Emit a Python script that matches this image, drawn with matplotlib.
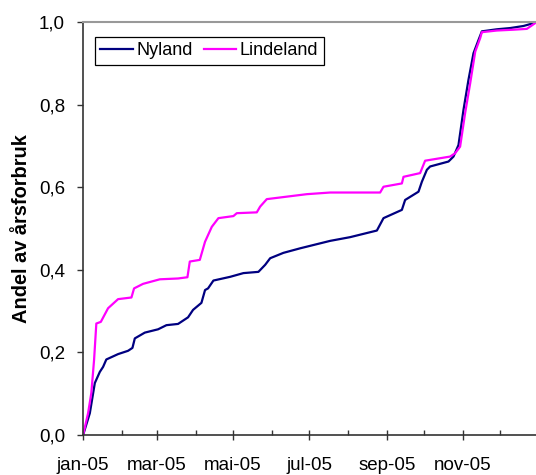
import matplotlib
matplotlib.use("Agg")
import matplotlib.pyplot as plt
from matplotlib.ticker import FixedLocator, FuncFormatter

plt.rcParams['font.family'] = ['Liberation Sans', 'DejaVu Sans']

# dag i året (0 = 1. januar 2005) og kumulativ andel av årsforbruk
nyland_dag = [0, 5.4, 9.4, 13.4, 16.0, 18.6, 28.0, 36.0, 39.5, 41.4, 49.4, 60.0, 66.7,
              76.0, 84.0, 88.0, 94.7, 97.6, 100.0, 104.3, 117.7, 128.3, 140.3, 145.7,
              149.7, 160.3, 173.7, 197.7, 213.7, 235.1, 240.4, 255.1, 257.7, 268.4,
              271.1, 275.1, 277.7, 292.4, 296.4, 300.4, 304.4, 308.4, 312.4, 316.4,
              319.1, 331.1, 341.8, 352.4, 361.8, 365]
nyland_andel = [0, 0.053, 0.126, 0.153, 0.165, 0.183, 0.196, 0.204, 0.211, 0.234, 0.248,
                0.256, 0.266, 0.269, 0.285, 0.303, 0.320, 0.351, 0.355, 0.374, 0.383,
                0.392, 0.395, 0.412, 0.428, 0.441, 0.452, 0.470, 0.479, 0.495, 0.525,
                0.545, 0.569, 0.589, 0.613, 0.642, 0.650, 0.662, 0.674, 0.702, 0.787,
                0.860, 0.924, 0.956, 0.977, 0.982, 0.985, 0.990, 0.998, 1.0]

lindeland_dag = [0, 4.0, 6.6, 8.8, 10.6, 14.2, 20.0, 28.0, 38.7, 40.8, 48.0, 61.4, 76.0,
                 83.5, 85.4, 93.4, 97.6, 103.0, 108.3, 120.3, 123.0, 139.0, 141.7, 147.0,
                 163.0, 179.0, 197.7, 237.7, 240.4, 255.1, 256.4, 269.7, 273.7, 285.7,
                 293.7, 297.7, 301.7, 305.7, 309.8, 313.8, 317.8, 319.1, 331.1, 344.4,
                 355.1, 361.8, 365]
lindeland_andel = [0, 0.053, 0.102, 0.182, 0.270, 0.274, 0.307, 0.329, 0.333, 0.355, 0.366,
                   0.377, 0.379, 0.382, 0.420, 0.424, 0.468, 0.504, 0.525, 0.530, 0.537,
                   0.539, 0.553, 0.571, 0.577, 0.583, 0.587, 0.587, 0.601, 0.609, 0.625,
                   0.634, 0.664, 0.670, 0.674, 0.682, 0.698, 0.779, 0.852, 0.928, 0.961,
                   0.975, 0.979, 0.981, 0.983, 0.997, 1.0]

maaned_start = [0, 59, 120, 181, 243, 304]
maaned_navn = ['jan-05', 'mar-05', 'mai-05', 'jul-05', 'sep-05', 'nov-05']
mellom_maaned = [31, 90, 151, 212, 273, 334]

fig = plt.figure(figsize=(5.36, 4.75), dpi=100)
ax = fig.add_axes([0.155, 0.084, 0.851, 0.870])

ax.plot(nyland_dag, nyland_andel, color='#000080', lw=1.6, label='Nyland')
ax.plot(lindeland_dag, lindeland_andel, color='#FF00FF', lw=1.6, label='Lindeland')

ax.set_xlim(0, 365)
ax.set_ylim(0, 1.0)
ax.xaxis.set_major_locator(FixedLocator(maaned_start))
ax.set_xticklabels(maaned_navn)
ax.xaxis.set_minor_locator(FixedLocator(mellom_maaned))
ax.set_yticks([0, 0.2, 0.4, 0.6, 0.8, 1.0])
ax.yaxis.set_major_formatter(FuncFormatter(lambda v, p: ('%.1f' % v).replace('.', ',')))

ax.tick_params(axis='x', which='major', direction='inout', length=7, width=1,
               color='#333333', labelsize=13.5, pad=12)
ax.tick_params(axis='x', which='minor', direction='in', length=3.5, width=1, color='#333333')
ax.tick_params(axis='y', direction='out', length=4.5, width=1, color='#333333',
               labelsize=13.5, pad=8.5)

for s in ['left', 'bottom']:
    ax.spines[s].set_color('#333333')
    ax.spines[s].set_linewidth(1.2)
ax.spines['top'].set_color('#999999')
ax.spines['top'].set_linewidth(1.5)
ax.spines['right'].set_visible(False)

ax.set_ylabel('Andel av årsforbruk', fontsize=14.4, fontweight='bold', labelpad=6)

leg = ax.legend(loc='upper left', bbox_to_anchor=(0.026, 0.964), borderaxespad=0,
                ncol=2, fontsize=13, handlelength=1.8, handletextpad=0.2,
                columnspacing=0.6, fancybox=False, framealpha=1,
                borderpad=0.3, edgecolor='black')
leg.get_frame().set_linewidth(0.9)

fig.savefig('out.png', dpi=100)
